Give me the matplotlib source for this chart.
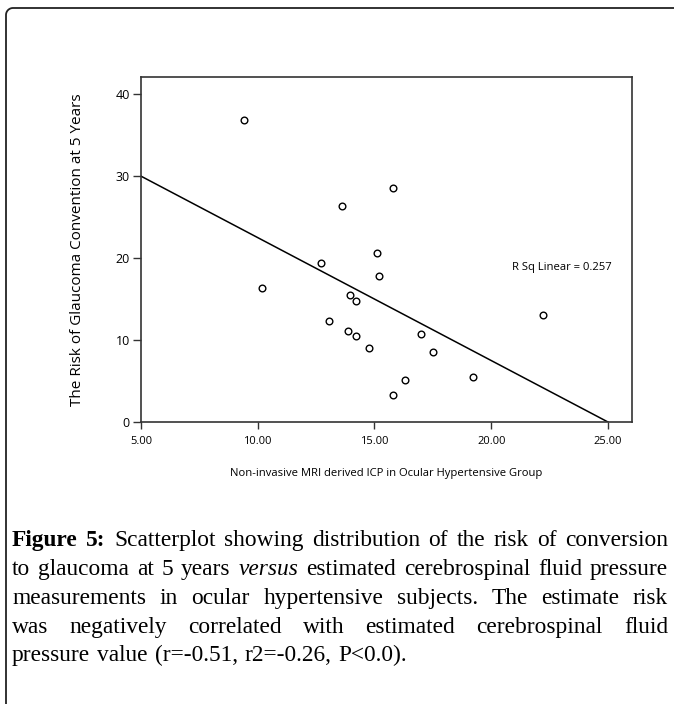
import numpy as np
import matplotlib
matplotlib.use("Agg")
from matplotlib import pyplot as plt

# values
icp = [9.4, 15.8, 13.6, 15.1, 12.7, 15.2, 10.2, 13.95, 14.2, 22.2,
       13.05, 13.85, 14.2, 17.0, 14.75, 17.5, 16.3, 19.2, 15.8]
risk = [36.8, 28.6, 26.3, 20.6, 19.4, 17.8, 16.4, 15.5, 14.75, 13.1,
        12.3, 11.1, 10.5, 10.7, 9.05, 8.5, 5.1, 5.5, 3.25]
fit_x = [5.0, 25.0]
fit_intercept = 37.5
fit_slope = -1.5
r_sq = 0.257
xticks = [5, 10, 15, 20, 25]
yticks = [0, 10, 20, 30, 40]

caption = [
    [("Figure", "bold", "normal"), ("5:", "bold", "normal"), "Scatterplot", "showing",
     "distribution", "of", "the", "risk", "of", "conversion"],
    ["to", "glaucoma", "at", "5", "years", ("versus", "normal", "italic"), "estimated",
     "cerebrospinal", "fluid", "pressure"],
    ["measurements", "in", "ocular", "hypertensive", "subjects.", "The", "estimate", "risk"],
    ["was", "negatively", "correlated", "with", "estimated", "cerebrospinal", "fluid"],
    ["pressure", "value", "(r=-0.51,", "r2=-0.26,", "P<0.0)."],
]

W, H = 674, 704
fig = plt.figure(figsize=(W / 100, H / 100), dpi=100)
sans = ["Open Sans", "DejaVu Sans"]
serif = ["Liberation Serif", "DejaVu Serif"]

# frame around the figure (top and left edges, rounded corner)
bg = fig.add_axes([0, 0, 1, 1])
bg.set_xlim(0, W)
bg.set_ylim(H, 0)
bg.axis("off")
r = 7
t = np.linspace(np.pi / 2, np.pi, 20)
fx = np.concatenate([[W], 6 + r + r * np.cos(t), [6]])
fy = np.concatenate([[8], 8 + r - r * np.sin(t), [H]])
bg.plot(fx, fy, color="#222222", lw=1.3)

ax = fig.add_axes([141 / W, 1 - 422 / H, (632 - 141) / W, (422 - 77) / H])
ax.plot(icp, risk, linestyle="none", marker="o", markersize=4.8,
        markerfacecolor="white", markeredgecolor="black", markeredgewidth=1.0)
fx = np.array(fit_x)
ax.plot(fx, fit_intercept + fit_slope * fx, color="black", lw=1.1)
ax.set_xlim(5, 26.03)
ax.set_ylim(0, 42.1)
ax.set_xticks(xticks)
ax.set_xticklabels(["%.2f" % v for v in xticks], family=sans, fontsize=8)
ax.set_yticks(yticks)
ax.set_yticklabels([str(v) for v in yticks], family=sans, fontsize=9)
ax.tick_params(direction="out", length=6, width=1, color="#333333", pad=2)
ax.tick_params(axis="x", length=5, pad=5)
for s in ax.spines.values():
    s.set_linewidth(1.2)
    s.set_color("#333333")
ax.set_xlabel("Non-invasive MRI derived ICP in Ocular Hypertensive Group",
              family=sans, fontsize=8.15, labelpad=15)
ax.set_ylabel("The Risk of Glaucoma Convention at 5 Years",
              family=sans, fontsize=11, labelpad=22)
ax.text(20.9, 18.9, "R Sq Linear = %.3f" % r_sq, family=sans, fontsize=8.15,
        va="center", ha="left")

# justified caption
renderer = fig.canvas.get_renderer()
x_left, x_right = 12, 668
line_y = [546, 575, 604, 633, 661]
fsize = 16.8


def word_props(w):
    if isinstance(w, tuple):
        return w
    return (w, "normal", "normal")


for i, line in enumerate(caption):
    items = []
    for w in line:
        txt, wt, st = word_props(w)
        tobj = bg.text(0, line_y[i], txt, family=serif, fontsize=fsize,
                       fontweight=wt, fontstyle=st, va="baseline", ha="left")
        ww = tobj.get_window_extent(renderer).width
        items.append((tobj, ww))
    total = sum(ww for _, ww in items)
    if i == len(caption) - 1:
        gap = fsize * 0.3 * 100 / 72
    else:
        gap = (x_right - x_left - total) / (len(items) - 1)
    x = x_left
    for tobj, ww in items:
        tobj.set_x(x)
        x += ww + gap

fig.savefig("out.png", dpi=100)
